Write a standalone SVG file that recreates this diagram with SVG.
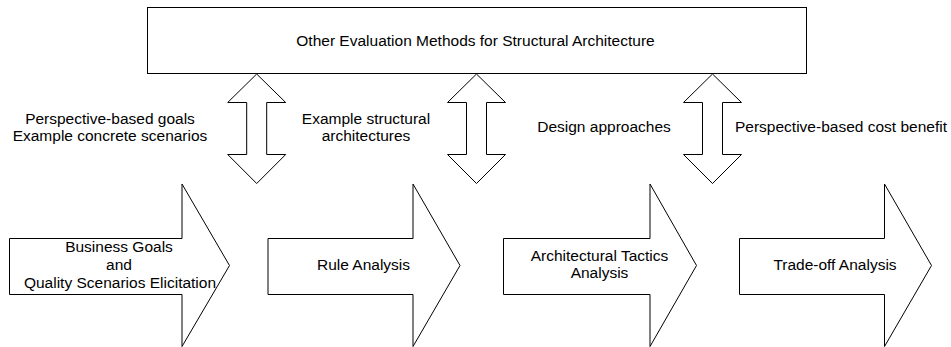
<svg xmlns="http://www.w3.org/2000/svg" width="951" height="347" viewBox="0 0 951 347">
<style>
.shape{fill:#fff;stroke:#000;stroke-width:1}
text{font-family:"Liberation Sans",Arial,sans-serif;font-size:15.5px;fill:#000}
.m{text-anchor:middle}
</style>
<rect width="951" height="347" fill="#fff"/>
<g id="top">
<rect class="shape" x="147.5" y="7.5" width="659" height="66"/>
<text class="m" x="475.5" y="46">Other Evaluation Methods for Structural Architecture</text>
</g>
<g id="connectors">
<polygon class="shape" points="256.7,74 285.7,102.5 266.7,102.5 266.7,154.5 285.7,154.5 256.7,183.5 227.7,154.5 246.7,154.5 246.7,102.5 227.7,102.5"/>
<polygon class="shape" points="476.5,74 505.5,102.5 486.5,102.5 486.5,154.5 505.5,154.5 476.5,183.5 447.5,154.5 466.5,154.5 466.5,102.5 447.5,102.5"/>
<polygon class="shape" points="712.5,74 741.5,102.5 722.5,102.5 722.5,154.5 741.5,154.5 712.5,183.5 683.5,154.5 702.5,154.5 702.5,102.5 683.5,102.5"/>
<text class="m" x="110" y="124">Perspective-based goals</text>
<text class="m" x="110" y="141">Example concrete scenarios</text>
<text class="m" x="366" y="124">Example structural</text>
<text class="m" x="366" y="141">architectures</text>
<text class="m" x="604" y="132">Design approaches</text>
<text x="735" y="132">Perspective-based cost benefit</text>
</g>
<g id="step1">
<polygon class="shape" points="9.5,238.5 182,238.5 182,184 229.5,265.5 182,346.5 182,294.5 9.5,294.5"/>
<text class="m" x="119" y="252">Business Goals</text>
<text class="m" x="119" y="270">and</text>
<text class="m" x="120" y="288">Quality Scenarios Elicitation</text>
</g>
<g id="step2">
<polygon class="shape" points="268,238.5 413,238.5 413,184 460,265.5 413,346.5 413,294.5 268,294.5"/>
<text class="m" x="363.5" y="270">Rule Analysis</text>
</g>
<g id="step3">
<polygon class="shape" points="503.5,238.5 650,238.5 650,184 696.5,265.5 650,346.5 650,294.5 503.5,294.5"/>
<text class="m" x="599.5" y="261">Architectural Tactics</text>
<text class="m" x="599.5" y="278">Analysis</text>
</g>
<g id="step4">
<polygon class="shape" points="739.5,238.5 884.5,238.5 884.5,184 931.5,265.5 884.5,346.5 884.5,294.5 739.5,294.5"/>
<text class="m" x="835" y="270">Trade-off Analysis</text>
</g>
</svg>
